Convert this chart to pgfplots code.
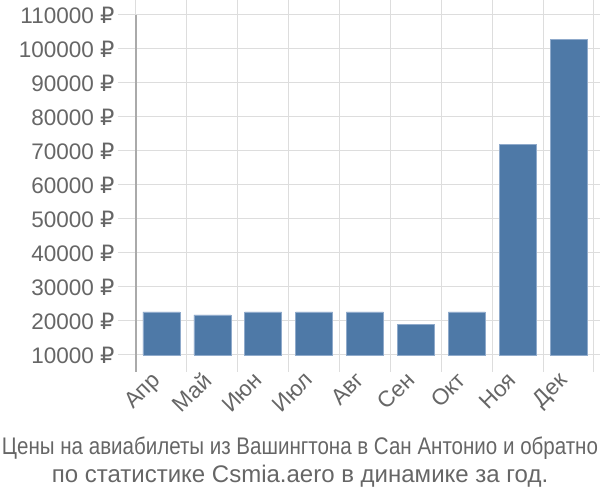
\documentclass[border=0pt]{standalone}
\usepackage{pgfplots}
\pgfplotsset{compat=1.18}
\usepackage{fontspec}
\setmainfont{Liberation Sans}
\newfontfamily\dejavu{DejaVu Sans}
\newcommand\rub{{\dejavu ₽}}
\definecolor{barblue}{HTML}{4E79A7}
\definecolor{baredge}{HTML}{8FAACB}
\definecolor{gridgray}{HTML}{DDDDDD}
\definecolor{axisgray}{HTML}{AAAAAA}
\definecolor{txtgray}{HTML}{666666}
\begin{document}
\begin{tikzpicture}[x=1pt,y=1pt]
\path[use as bounding box] (0,0) rectangle (600,500);
\begin{axis}[
  at={(136pt,145pt)}, anchor=south west,
  scale only axis, width=458pt, height=340pt,
  xmin=-0.5, xmax=8.5, ymin=10000, ymax=110000,
  scaled y ticks=false,
  axis line style={draw=none},
  xtick={0,...,8},
  xticklabels={Апр,Май,Июн,Июл,Авг,Сен,Окт,Ноя,Дек},
  major x tick style={draw=none},
  minor xtick={-0.5,0.5,...,8.5},
  xminorgrids,
  minor x tick style={gridgray, line width=1pt},
  minor tick length=17pt,
  tick align=outside,
  xticklabel style={xshift=-11pt, yshift=4pt, rotate=45, anchor=north east, inner sep=1pt, font=\fontsize{22.5}{26}\selectfont, text=txtgray},
  ytick={10000,20000,...,110000},
  yticklabels={10000 \rub,20000 \rub,30000 \rub,40000 \rub,50000 \rub,60000 \rub,70000 \rub,80000 \rub,90000 \rub,100000 \rub,110000 \rub},
  ymajorgrids,
  major y tick style={gridgray, line width=1pt},
  major tick length=18pt,
  yticklabel style={font=\fontsize{22.5}{26}\selectfont, text=txtgray},
  grid style={gridgray, line width=1pt},
  clip=false,
]
\addplot[ybar, bar width=37pt, fill=barblue, draw=baredge, line width=0.6pt, bar shift=0pt]
  coordinates {(0,22700) (1,21800) (2,22700) (3,22700) (4,22700) (5,19100) (6,22700) (7,72000) (8,102900)};
\draw[axisgray, line width=1.2pt] (axis cs:-0.5,110000) -- (axis cs:-0.5,10000) -- ([yshift=-17pt]axis cs:-0.5,10000);
\end{axis}
\node[text=txtgray, font=\fontsize{24}{28}\selectfont] at (300,52) {\resizebox{596pt}{\height}{Цены на авиабилеты из Вашингтона в Сан Антонио и обратно}};
\node[text=txtgray, font=\fontsize{24}{28}\selectfont] at (300,24) {по статистике Csmia.aero в динамике за год.};
\end{tikzpicture}
\end{document}
